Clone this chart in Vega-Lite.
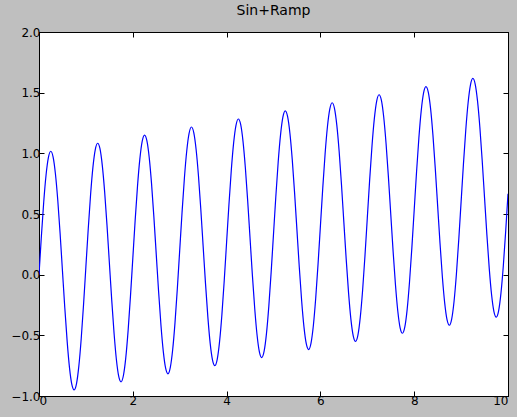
{
  "$schema": "https://vega.github.io/schema/vega-lite/v6.json",
  "autosize": "none",
  "width": 469,
  "height": 364,
  "padding": {"left": 39, "top": 32, "right": 9, "bottom": 21},
  "background": "#bfbfbf",
  "title": {"text": "Sin+Ramp", "font": "DejaVu Sans", "fontSize": 14, "fontWeight": "normal", "color": "black", "offset": 8},
  "config": {
    "view": {"fill": "white", "stroke": "black", "strokeWidth": 1},
    "axis": {"grid": false, "domainColor": "black", "domainWidth": 1, "tickColor": "black", "tickWidth": 1, "tickSize": -5, "labelFont": "DejaVu Sans", "labelFontSize": 12, "labelColor": "black", "labelPadding": 4, "title": null}
  },
  "data": {"values": [
{"t":0,"y":0},{"t":0.05,"y":0.312},{"t":0.1,"y":0.595},{"t":0.15,"y":0.819},{"t":0.2,"y":0.964},{"t":0.25,"y":1.017},{"t":0.3,"y":0.971},{"t":0.35,"y":0.832},{"t":0.4,"y":0.615},{"t":0.45,"y":0.339},{"t":0.5,"y":0.033},{"t":0.55,"y":-0.272},{"t":0.6,"y":-0.548},{"t":0.65,"y":-0.766},{"t":0.7,"y":-0.904},{"t":0.75,"y":-0.95},{"t":0.8,"y":-0.898},{"t":0.85,"y":-0.752},{"t":0.9,"y":-0.528},{"t":0.95,"y":-0.246},
{"t":1,"y":0.067},{"t":1.05,"y":0.379},{"t":1.1,"y":0.661},{"t":1.15,"y":0.886},{"t":1.2,"y":1.031},{"t":1.25,"y":1.083},{"t":1.3,"y":1.038},{"t":1.35,"y":0.899},{"t":1.4,"y":0.681},{"t":1.45,"y":0.406},{"t":1.5,"y":0.1},{"t":1.55,"y":-0.206},{"t":1.6,"y":-0.481},{"t":1.65,"y":-0.699},{"t":1.7,"y":-0.838},{"t":1.75,"y":-0.883},{"t":1.8,"y":-0.831},{"t":1.85,"y":-0.686},{"t":1.9,"y":-0.461},{"t":1.95,"y":-0.179},
{"t":2,"y":0.133},{"t":2.05,"y":0.446},{"t":2.1,"y":0.728},{"t":2.15,"y":0.952},{"t":2.2,"y":1.098},{"t":2.25,"y":1.15},{"t":2.3,"y":1.104},{"t":2.35,"y":0.966},{"t":2.4,"y":0.748},{"t":2.45,"y":0.472},{"t":2.5,"y":0.167},{"t":2.55,"y":-0.139},{"t":2.6,"y":-0.415},{"t":2.65,"y":-0.632},{"t":2.7,"y":-0.771},{"t":2.75,"y":-0.817},{"t":2.8,"y":-0.764},{"t":2.85,"y":-0.619},{"t":2.9,"y":-0.395},{"t":2.95,"y":-0.112},
{"t":3,"y":0.2},{"t":3.05,"y":0.512},{"t":3.1,"y":0.795},{"t":3.15,"y":1.019},{"t":3.2,"y":1.164},{"t":3.25,"y":1.217},{"t":3.3,"y":1.171},{"t":3.35,"y":1.032},{"t":3.4,"y":0.815},{"t":3.45,"y":0.539},{"t":3.5,"y":0.233},{"t":3.55,"y":-0.072},{"t":3.6,"y":-0.348},{"t":3.65,"y":-0.566},{"t":3.7,"y":-0.704},{"t":3.75,"y":-0.75},{"t":3.8,"y":-0.698},{"t":3.85,"y":-0.552},{"t":3.9,"y":-0.328},{"t":3.95,"y":-0.046},
{"t":4,"y":0.267},{"t":4.05,"y":0.579},{"t":4.1,"y":0.861},{"t":4.15,"y":1.086},{"t":4.2,"y":1.231},{"t":4.25,"y":1.283},{"t":4.3,"y":1.238},{"t":4.35,"y":1.099},{"t":4.4,"y":0.881},{"t":4.45,"y":0.606},{"t":4.5,"y":0.3},{"t":4.55,"y":-0.006},{"t":4.6,"y":-0.281},{"t":4.65,"y":-0.499},{"t":4.7,"y":-0.638},{"t":4.75,"y":-0.683},{"t":4.8,"y":-0.631},{"t":4.85,"y":-0.486},{"t":4.9,"y":-0.261},{"t":4.95,"y":0.021},
{"t":5,"y":0.333},{"t":5.05,"y":0.646},{"t":5.1,"y":0.928},{"t":5.15,"y":1.152},{"t":5.2,"y":1.298},{"t":5.25,"y":1.35},{"t":5.3,"y":1.304},{"t":5.35,"y":1.166},{"t":5.4,"y":0.948},{"t":5.45,"y":0.672},{"t":5.5,"y":0.367},{"t":5.55,"y":0.061},{"t":5.6,"y":-0.215},{"t":5.65,"y":-0.432},{"t":5.7,"y":-0.571},{"t":5.75,"y":-0.617},{"t":5.8,"y":-0.564},{"t":5.85,"y":-0.419},{"t":5.9,"y":-0.195},{"t":5.95,"y":0.088},
{"t":6,"y":0.4},{"t":6.05,"y":0.712},{"t":6.1,"y":0.995},{"t":6.15,"y":1.219},{"t":6.2,"y":1.364},{"t":6.25,"y":1.417},{"t":6.3,"y":1.371},{"t":6.35,"y":1.232},{"t":6.4,"y":1.015},{"t":6.45,"y":0.739},{"t":6.5,"y":0.433},{"t":6.55,"y":0.128},{"t":6.6,"y":-0.148},{"t":6.65,"y":-0.366},{"t":6.7,"y":-0.504},{"t":6.75,"y":-0.55},{"t":6.8,"y":-0.498},{"t":6.85,"y":-0.352},{"t":6.9,"y":-0.128},{"t":6.95,"y":0.154},
{"t":7,"y":0.467},{"t":7.05,"y":0.779},{"t":7.1,"y":1.061},{"t":7.15,"y":1.286},{"t":7.2,"y":1.431},{"t":7.25,"y":1.483},{"t":7.3,"y":1.438},{"t":7.35,"y":1.299},{"t":7.4,"y":1.081},{"t":7.45,"y":0.806},{"t":7.5,"y":0.5},{"t":7.55,"y":0.194},{"t":7.6,"y":-0.081},{"t":7.65,"y":-0.299},{"t":7.7,"y":-0.438},{"t":7.75,"y":-0.483},{"t":7.8,"y":-0.431},{"t":7.85,"y":-0.286},{"t":7.9,"y":-0.061},{"t":7.95,"y":0.221},
{"t":8,"y":0.533},{"t":8.05,"y":0.846},{"t":8.1,"y":1.128},{"t":8.15,"y":1.352},{"t":8.2,"y":1.498},{"t":8.25,"y":1.55},{"t":8.3,"y":1.504},{"t":8.35,"y":1.366},{"t":8.4,"y":1.148},{"t":8.45,"y":0.872},{"t":8.5,"y":0.567},{"t":8.55,"y":0.261},{"t":8.6,"y":-0.015},{"t":8.65,"y":-0.232},{"t":8.7,"y":-0.371},{"t":8.75,"y":-0.417},{"t":8.8,"y":-0.364},{"t":8.85,"y":-0.219},{"t":8.9,"y":0.005},{"t":8.95,"y":0.288},
{"t":9,"y":0.6},{"t":9.05,"y":0.912},{"t":9.1,"y":1.195},{"t":9.15,"y":1.419},{"t":9.2,"y":1.564},{"t":9.25,"y":1.617},{"t":9.3,"y":1.571},{"t":9.35,"y":1.432},{"t":9.4,"y":1.215},{"t":9.45,"y":0.939},{"t":9.5,"y":0.633},{"t":9.55,"y":0.328},{"t":9.6,"y":0.052},{"t":9.65,"y":-0.166},{"t":9.7,"y":-0.304},{"t":9.75,"y":-0.35},{"t":9.8,"y":-0.298},{"t":9.85,"y":-0.152},{"t":9.9,"y":0.072},{"t":9.95,"y":0.354},
{"t":10,"y":0.667}
  ]},
  "layer": [
    {
      "mark": {"type": "line", "color": "#0000ff", "strokeWidth": 1.2, "interpolate": "monotone", "clip": true},
      "encoding": {
        "x": {"field": "t", "type": "quantitative", "scale": {"domain": [0, 10], "nice": false, "zero": false}, "axis": {"orient": "bottom", "values": [0, 2, 4, 6, 8, 10], "format": "d"}},
        "y": {"field": "y", "type": "quantitative", "scale": {"domain": [-1, 2], "nice": false, "zero": false}, "axis": {"orient": "left", "values": [-1, -0.5, 0, 0.5, 1, 1.5, 2], "format": ".1f"}}
      }
    },
    {
      "mark": {"type": "line", "opacity": 0},
      "encoding": {
        "x": {"field": "t", "type": "quantitative", "scale": {"domain": [0, 10], "nice": false, "zero": false}, "axis": {"orient": "top", "values": [0, 2, 4, 6, 8, 10], "labels": false}},
        "y": {"field": "y", "type": "quantitative", "scale": {"domain": [-1, 2], "nice": false, "zero": false}, "axis": {"orient": "right", "values": [-1, -0.5, 0, 0.5, 1, 1.5, 2], "labels": false}}
      }
    }
  ],
  "resolve": {"axis": {"x": "independent", "y": "independent"}}
}
